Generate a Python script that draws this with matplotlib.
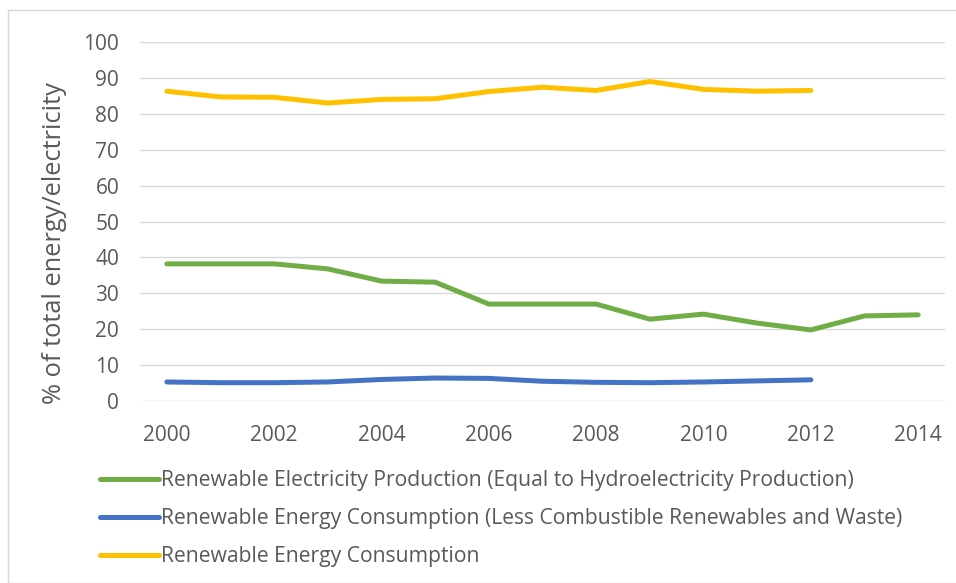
import numpy as np
import matplotlib.pyplot as plt
from matplotlib.patches import Rectangle

plt.rcParams['font.family'] = ['Open Sans', 'DejaVu Sans']

years = list(range(2000, 2015))

# % of total energy / electricity
elec_production = [38.2, 38.2, 38.2, 36.8, 33.4, 33.1, 27.0, 27.0, 27.0, 22.8, 24.2, 21.7, 19.8, 23.7, 24.0]
consumption_less_comb = [5.3, 5.1, 5.1, 5.3, 6.0, 6.4, 6.3, 5.5, 5.2, 5.1, 5.3, 5.6, 5.9]
consumption = [86.3, 84.7, 84.6, 83.0, 84.0, 84.2, 86.2, 87.4, 86.5, 89.0, 86.8, 86.3, 86.5]

labels = ['Renewable Electricity Production (Equal to Hydroelectricity Production)',
          'Renewable Energy Consumption (Less Combustible Renewables and Waste)',
          'Renewable Energy Consumption']
colors = ['#70AD47', '#4472C4', '#FFC000']

txt = '#595959'
fig = plt.figure(figsize=(9.56, 5.83), dpi=100)
ax = fig.add_axes([140/956, 1-401/583, 805/956, 359/583])

series = [elec_production, consumption_less_comb, consumption]
for vals, lab, col in zip(series, labels, colors):
    ax.plot(years[:len(vals)], vals, color=col, lw=3.6, label=lab,
            solid_capstyle='round', solid_joinstyle='round')

ax.set_xlim(1999.5, 2014.5)
ax.set_ylim(0, 100)
ax.set_yticks(np.arange(0, 101, 10))
ax.set_xticks(years[::2])
ax.grid(axis='y', color='#d9d9d9', lw=1)
ax.set_axisbelow(True)
for s in ax.spines.values():
    s.set_visible(False)
ax.tick_params(length=0, labelsize=15, colors=txt)
ax.tick_params(axis='y', pad=15)
ax.tick_params(axis='x', pad=17)

# axis title placed in figure pixels
fig.text(55/956, 1-243/583, '% of total energy/electricity', rotation=90,
         ha='center', va='center', fontsize=18.3, color=txt)

fig.legend(loc='upper left', bbox_to_anchor=(92/956, 1-462/583), frameon=False,
           fontsize=15.2, labelcolor=txt, handlelength=2.75, handletextpad=0.1,
           labelspacing=0.8, borderaxespad=0)

fig.patches.append(Rectangle((8/956, 0), 1, 1-10/583, transform=fig.transFigure,
                             fill=False, edgecolor='#d9d9d9', lw=1))

fig.savefig('out.png', dpi=100)
